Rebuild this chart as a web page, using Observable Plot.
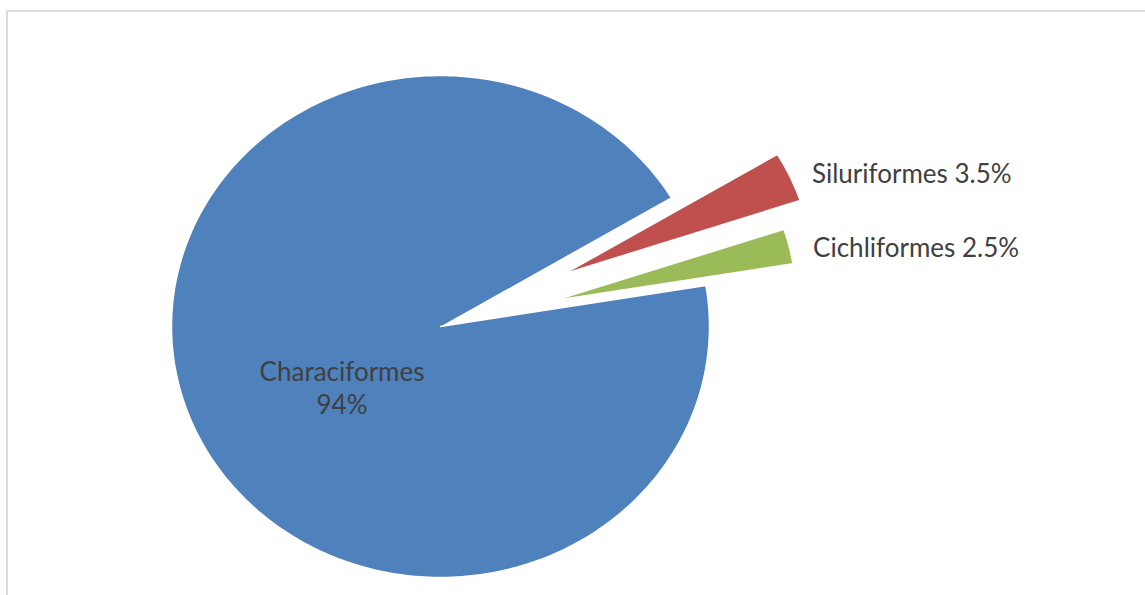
<!DOCTYPE html>
<html>
<head>
<meta charset="utf-8">
<script src="https://cdn.jsdelivr.net/npm/d3@7"></script>
<script src="https://cdn.jsdelivr.net/npm/@observablehq/plot@0.6"></script>
<style>
  html, body { margin: 0; padding: 0; background: #fff; overflow: hidden; }
  #wrap { position: relative; width: 1145px; height: 595px; }
  #frame { position: absolute; left: 6px; top: 10px; width: 1145px; height: 600px;
           border-top: 2px solid #dcdcdc; border-left: 2px solid #dcdcdc; pointer-events: none; }
</style>
</head>
<body>
<div id="wrap"><div id="frame"></div></div>
<script>
// ---- data ----
const categories = ["Characiformes", "Siluriformes", "Cichliformes"];
const shares = [94, 3.5, 2.5];
const labelTexts = ["Characiformes\n94%", "Siluriformes 3.5%", "Cichliformes 2.5%"];
const colors = ["#4F81BD", "#C0504D", "#9BBB59"];

// ---- layout constants ----
const explode = {Characiformes: 0, Siluriformes: 0.52, Cichliformes: 0.455};
const sliceRadius = {Characiformes: 1, Siluriformes: 0.91, Cichliformes: 0.88};
const startDeg = 80.6;
const rad = d => d * Math.PI / 180;

const rows = categories.map((c, i) => ({name: c, share: shares[i], label: labelTexts[i], color: colors[i]}));
const arcs = d3.pie().sort(null).value(d => d.share)
  .startAngle(rad(startDeg)).endAngle(rad(startDeg) + 2 * Math.PI)(rows);

const pts = [];
const labelPts = [];
for (const a of arcs) {
  const mid = (a.startAngle + a.endAngle) / 2;
  const e = explode[a.data.name];
  const R = sliceRadius[a.data.name];
  const ox = e * Math.sin(mid), oy = e * Math.cos(mid);
  pts.push({name: a.data.name, color: a.data.color, x: ox, y: oy});
  const n = Math.max(8, Math.ceil((a.endAngle - a.startAngle) / rad(1)));
  for (let k = 0; k <= n; k++) {
    const t = a.startAngle + (a.endAngle - a.startAngle) * k / n;
    pts.push({name: a.data.name, color: a.data.color, x: ox + R * Math.sin(t), y: oy + R * Math.cos(t)});
  }
  const inside = e === 0;
  const r = inside ? 0.39 : e + R;
  labelPts.push({name: a.data.name, label: a.data.label, x: r * Math.sin(mid), y: r * Math.cos(mid)});
}

const W = 1145, H = 595;
const cx = 440, cy = 326, rx = 269, ry = 251;

const chart = Plot.plot({
  width: W, height: H,
  margin: 0,
  x: {domain: [-cx / rx, (W - cx) / rx], range: [0, W], axis: null},
  y: {domain: [-(H - cy) / ry, cy / ry], range: [H, 0], axis: null},
  color: {type: "identity"},
  style: {fontFamily: "Lato, 'Open Sans', sans-serif", background: "transparent"},
  marks: [
    Plot.line(pts, {x: "x", y: "y", z: "name", fill: "color", stroke: "white", strokeWidth: 1.5, curve: "linear"}),
    Plot.text(labelPts.filter(d => d.name === "Characiformes"), {
      x: "x", y: "y", text: "label", textAnchor: "middle", lineHeight: 1.27,
      dy: 27, fontSize: 26, fill: "#404040"}),
    Plot.text(labelPts.filter(d => d.name === "Siluriformes"), {
      x: "x", y: "y", text: "label", textAnchor: "start", dx: 22, dy: -2, fontSize: 26, fill: "#404040"}),
    Plot.text(labelPts.filter(d => d.name === "Cichliformes"), {
      x: "x", y: "y", text: "label", textAnchor: "start", dx: 24, dy: 3, fontSize: 26, fill: "#404040"})
  ]
});
document.getElementById("wrap").prepend(chart);
</script>
</body>
</html>
